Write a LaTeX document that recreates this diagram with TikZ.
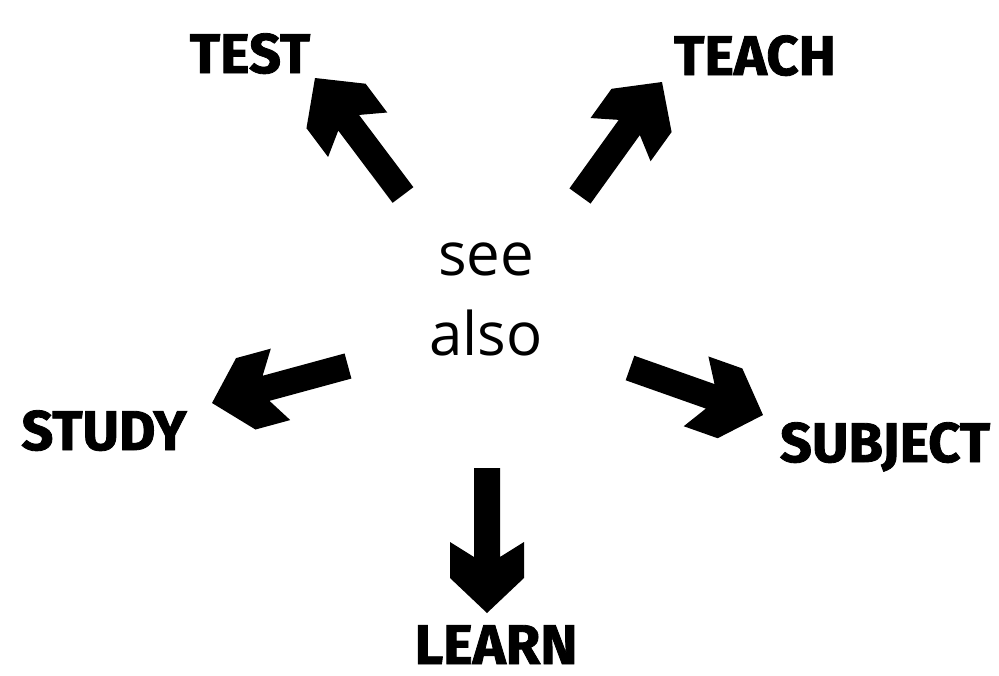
\documentclass[tikz,border=0pt]{standalone}
\usepackage{fontspec}
\setmainfont{Open Sans}
\newfontfamily\labelfont[BoldFeatures={FakeBold=1.5}]{Fira Sans}
\usetikzlibrary{calc}
\tikzset{
  fatarrowstyle/.style={fill=black},
  lbl/.style={font=\labelfont\bfseries\fontsize{56}{60}\selectfont, anchor=base, inner sep=0pt},
  centretext/.style={font=\fontsize{60}{80}\selectfont, align=center, inner sep=0pt}
}
% #1 tail coordinate, #2 tip coordinate
\newcommand\fatarrow[2]{%
  \path let \p1=($(#2)-(#1)$), \n1={atan2(\y1,\x1)}, \n2={veclen(\x1,\y1)} in
    \pgfextra{\xdef\farot{\n1}\xdef\falen{\n2}};
  \fill[fatarrowstyle, shift={(#1)}, rotate=\farot]
    (0pt,-13pt) -- ({\falen-56pt},-13pt) -- ({\falen-71pt},-37pt) -- ({\falen-35pt},-37pt)
    -- ({\falen},0pt) -- ({\falen-35pt},37pt) -- ({\falen-71pt},37pt) -- ({\falen-56pt},13pt)
    -- (0pt,13pt) -- cycle;
}
\begin{document}
\begin{tikzpicture}[x=1pt,y=-1pt]
  \useasboundingbox (0,0) rectangle (999,675);
  \fill[white] (0,0) rectangle (999,675);
  % centre text (anchor base = baseline of the last line)
  \node[centretext, anchor=base] (see) at (486,355) {see\\also};
  % labels
  \node[lbl] (test) at (250,73) {TEST};
  \node[lbl] (teach) at (755,75) {TEACH};
  \node[lbl] (study) at (104,450) {STUDY};
  \node[lbl] (subject) at (885,462) {SUBJECT};
  \node[lbl] (learn) at (496,664) {LEARN};
  % arrow ends
  \coordinate (testtail) at (403,195);  \coordinate (testtip) at (315,78);
  \coordinate (teachtail) at (580,196); \coordinate (teachtip) at (662,82);
  \coordinate (studytail) at (348,366); \coordinate (studytip) at (212,403);
  \coordinate (subjtail) at (630,368);  \coordinate (subjtip) at (763,415);
  \coordinate (learntail) at (487,468); \coordinate (learntip) at (487,613);
  \fatarrow{testtail}{testtip}
  \fatarrow{teachtail}{teachtip}
  \fatarrow{studytail}{studytip}
  \fatarrow{subjtail}{subjtip}
  \fatarrow{learntail}{learntip}
\end{tikzpicture}
\end{document}
